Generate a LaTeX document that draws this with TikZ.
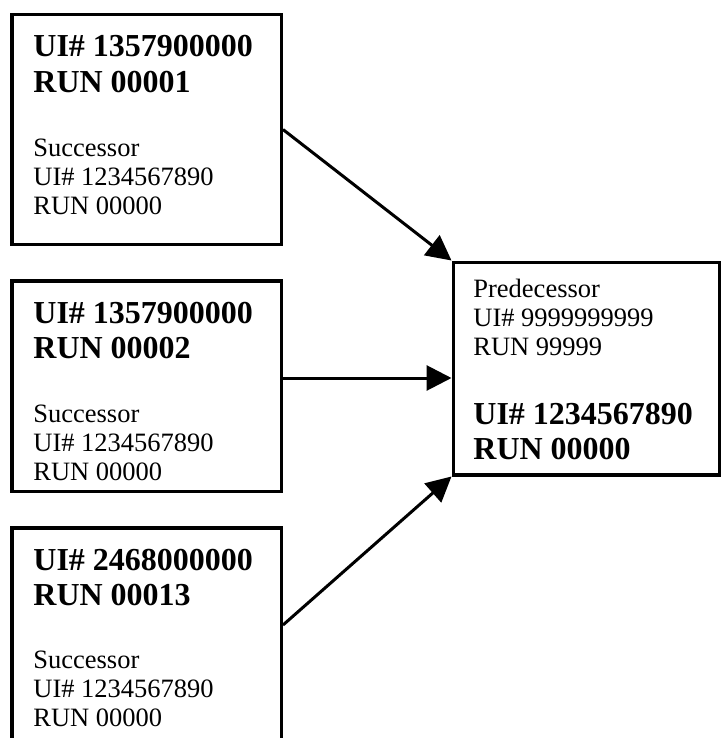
\documentclass[tikz,border=0pt]{standalone}
\usepackage{fontspec}
\setmainfont{Liberation Serif}
\usetikzlibrary{calc}
\usetikzlibrary{arrows.meta}
\tikzset{
  recordBox/.style={%
    draw, line width=1.75pt, inner sep=0pt, anchor=north west,
    minimum width=134.75pt,
  },
  headText/.style={%
    anchor=base west, align=left, inner sep=0pt,
    font=\bfseries\fontsize{16}{17.5}\selectfont,
  },
  bodyText/.style={%
    anchor=base west, align=left, inner sep=0pt,
    font=\fontsize{13.25}{14.5}\selectfont,
  },
  linkArrow/.style={%
    line width=1.5pt, -{Triangle[length=12.5pt,width=12.5pt]},
  }
}

\begin{document}
\begin{tikzpicture}[x=0.5pt,y=-0.5pt]
          \clip (0,0) rectangle (721,738);

          % successor records
          \node[recordBox,minimum height=114.75pt] (b1) at (10,13) {};
          \node[recordBox,minimum height=105.25pt] (b2) at (10,279) {};
          \node[recordBox,minimum height=140pt] (b3) at (10,526) {};
          % predecessor record
          \node[recordBox,minimum width=133pt,minimum height=106.25pt] (pred) at (451.5,260.5) {};

          % texts, placed by the baseline of their last line
          \node[headText] (h1) at ($(b1.north west)+(23,79)$) {UI\# 1357900000\\RUN 00001};
          \node[bodyText] (s1) at ($(b1.north west)+(23,201)$) {Successor\\UI\# 1234567890\\RUN 00000};
          \node[headText] (h2) at ($(b2.north west)+(23,79)$) {UI\# 1357900000\\RUN 00002};
          \node[bodyText] (s2) at ($(b2.north west)+(23,201)$) {Successor\\UI\# 1234567890\\RUN 00000};
          \node[headText] (h3) at ($(b3.north west)+(23,79)$) {UI\# 2468000000\\RUN 00013};
          \node[bodyText] (s3) at ($(b3.north west)+(23,200)$) {Successor\\UI\# 1234567890\\RUN 00000};

          \node[bodyText] (p1) at ($(pred.north west)+(21.5,94.5)$) {Predecessor\\UI\# 9999999999\\RUN 99999};
          \node[headText] (p2) at ($(pred.north west)+(21.5,198.5)$) {UI\# 1234567890\\RUN 00000};

          \coordinate (a2) at ($(b2.north east)+(0,99)$);
          \coordinate (a3) at ($(b3.north east)+(0,99)$);

          \draw[linkArrow] (b1.east) -- (pred.north west);
          \draw[linkArrow] (a2) -- (a2 -| pred.west);
          \draw[linkArrow] (a3) -- (pred.south west);
        \end{tikzpicture}
\end{document}
